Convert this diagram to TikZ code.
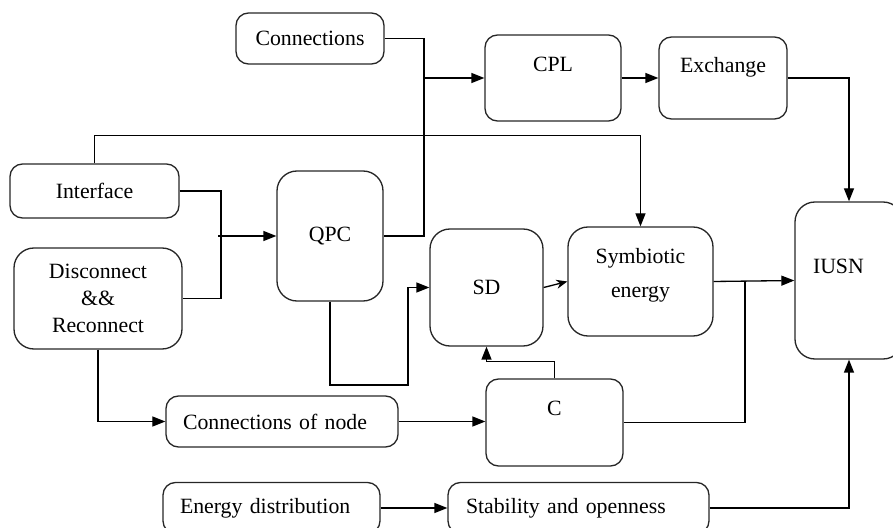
\documentclass[tikz,border=0pt]{standalone}
\usepackage{fontspec}
\setmainfont{Liberation Serif}
\usetikzlibrary{arrows.meta}

\begin{document}
\begin{tikzpicture}[x=0.2mm, y=0.2mm, line width=0.75pt,
                every node/.style={font=\fontsize{12.4}{15.5}\selectfont},
                box/.style={draw=black!85, rounded corners=2.5mm, align=center, inner sep=0pt},
                bigbox/.style={box, rounded corners=4mm},
                arr/.style={-{Triangle[length=2.6mm,width=2mm]}},
                sarr/.style={-{Stealth[length=2.2mm,width=1.8mm]}}]
                \useasboundingbox (0,0) rectangle (893,-528);
                \node[box, minimum width=29.6mm, minimum height=10.2mm] (conn) at (310,-38.5) {Connections};
                \node[box, minimum width=27.2mm, minimum height=17.2mm, text depth=5.6mm] (cpl) at (553,-78) {CPL};
                \node[box, minimum width=25.6mm, minimum height=16.4mm, text depth=5.2mm] (exch) at (723,-78) {Exchange};
                \node[box, minimum width=33.8mm, minimum height=10.8mm] (iface) at (94.5,-191) {Interface};
                \node[bigbox, minimum width=33.6mm, minimum height=20.2mm] (disc) at (98,-298.5) {Disconnect\\\&\&\\Reconnect};
                \node[bigbox, minimum width=21.2mm, minimum height=26mm] (qpc) at (330,-236) {QPC};
                \node[bigbox, minimum width=22.6mm, minimum height=23.4mm] (sd) at (486.5,-287.5) {SD};
                \node[bigbox, minimum width=29mm, minimum height=21.8mm, text depth=3.4mm] (sym) at (640.5,-281.5) {Symbiotic\\[1.3mm]energy};
                \node[bigbox, minimum width=21.6mm, minimum height=31.4mm, text depth=5.8mm, text width=14.4mm, align=left] (iusn) at (849,-280.5) {IUSN};
                \node[box, minimum width=46.4mm, minimum height=10.2mm, text width=39.6mm, align=left] (conode) at (282,-421.5) {Connections of node};
                \node[box, minimum width=27.4mm, minimum height=17.4mm, text depth=5.8mm] (c) at (554.5,-422.5) {C};
                \node[box, minimum width=43.4mm, minimum height=10.2mm, text width=36.6mm, align=left] (ed) at (271.5,-508) {Energy distribution};
                \node[box, minimum width=52.2mm, minimum height=10.2mm, text width=45mm, align=left] (stab) at (578.5,-508) {Stability and openness};
                \coordinate (j1) at (424,-78);
                \coordinate (j2) at (221,-236);
                \coordinate (j3) at (408,-385);
                \coordinate (j4) at (745,-281.5);
                \draw (conn.east) -| (j1);
                \draw (j1) |- (qpc.east);
                \draw[arr] (j1) -- (cpl.west);
                \draw[arr] (cpl.east) -- (exch.west);
                \draw[arr] (exch.east) -| (iusn.north);
                \draw[arr] (iface.north) -- ++(0,28) -| (sym.north);
                \draw (iface.east) -| (j2) |- (disc.east);
                \draw[arr] ([xshift=-0.6mm]j2) -- (qpc.west);
                \draw[arr] (qpc.south) |- (j3) |- (sd.west);
                \draw[sarr] (sd.east) -- (sym.west);
                \draw[arr] (sym.east) -- (iusn.west);
                \draw (j4) |- (c.east);
                \draw[arr] (c.north) -- ++(0,17) -| (sd.south);
                \draw[arr] (disc.south) |- (conode.west);
                \draw[arr] (conode.east) -- (conode.east -| c.west);
                \draw[arr] (ed.east) -- (stab.west);
                \draw[arr] (stab.east) -| (iusn.south);
            \end{tikzpicture}
\end{document}
